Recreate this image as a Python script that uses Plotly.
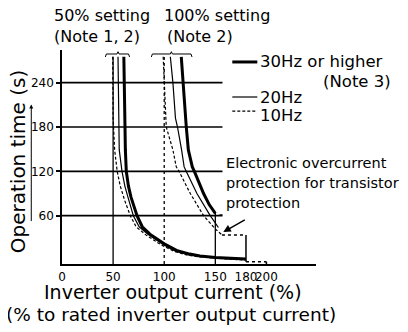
import plotly.graph_objects as go

# 50% setting curves, inverter output current (%) vs operation time (s)
cur50_30 = [60.5, 60.8, 61.2, 62, 62.9, 65, 67.5, 73.4, 78.5, 86, 100, 112, 125, 135, 150, 165, 180]
sec50_30 = [275, 240, 192, 149, 120, 100, 85, 60, 45, 35, 22, 13, 8, 5.5, 3.5, 2.2, 1.3]
cur50_20 = [54.8, 55, 55.4, 56, 58.7, 61.5, 64.5, 69.8, 75.5, 84, 99, 111, 124, 135, 150, 165, 180]
sec50_20 = [275, 240, 192, 149, 120, 100, 85, 60, 45, 35, 21, 12, 7, 4.8, 2.8, 1.5, 0.6]
cur50_10 = [49.6, 49.7, 50, 51.5, 54, 57, 61.5, 66.8, 72.5, 82, 97, 110, 123, 135, 150, 165, 180]
sec50_10 = [275, 240, 192, 149, 120, 100, 80, 60, 45, 34, 20.5, 11.5, 6.5, 4.2, 2.2, 1, 0]

# 100% setting curves
cur100_30 = [116.7, 118.4, 121.2, 121.6, 123.6, 127.5, 129.5, 138.5, 144, 150]
sec100_30 = [275, 240, 192, 180, 149, 126, 120, 90, 75, 63]
cur100_20 = [106, 108.5, 111, 113, 117, 119.5, 121.5, 132, 145, 150, 153]
sec100_20 = [275, 240, 192, 180, 149, 126, 120, 90, 60, 50, 44]
cur100_10 = [99, 100, 101, 102, 108.5, 111.8, 114.5, 125.5, 138.5, 150, 156.5]
sec100_10 = [275, 240, 192, 180, 149, 126, 120, 90, 60, 42, 34]

# electronic overcurrent protection steps
step_cur = [156.5, 180, 180, 200, 200]
step_sec = [34, 34, -2.3, -2.3, -5.4]

grid_sec = [60, 120, 180, 240]
grid_end = 157
vline_cur = [50, 100, 150]
vline_top = [275, 275, 63.6]
axis_sec = -5.4

bracket50 = [42.4, 43.4, 53.8, 54.8, 55.8, 65.1, 66.1]
bracket100 = [87.4, 88.4, 106, 107, 108, 126.2, 127.2]
bracket_sec = [274.7, 278.8, 278.8, 281.9, 278.8, 278.8, 274.7]

x_ticks = [0, 50, 100, 150, 180, 200]
y_ticks = [60, 120, 180, 240]

FONT = "DejaVu Sans"
fig = go.Figure()


def line(x, y, width=1.2, dash="solid"):
    fig.add_trace(go.Scatter(x=x, y=y, mode="lines", showlegend=False, hoverinfo="skip",
                             line=dict(color="black", width=width, dash=dash)))


# grid
for s in grid_sec:
    line([0, grid_end], [s, s], 1.6)
for c, top in zip(vline_cur, vline_top):
    line([c, c], [axis_sec, top], 1.3, "dot" if c == 100 else "solid")

# curves
line(cur50_30, sec50_30, 3)
line(cur50_20, sec50_20, 1.2)
line(cur50_10, sec50_10, 1.2, "3px,2px")
line(cur100_30, sec100_30, 3)
line(cur100_20, sec100_20, 1.2)
line(cur100_10, sec100_10, 1.2, "3px,2px")
line([154, 157], [61, 61], 1.2)

# protection steps
line(step_cur[0:2], step_sec[0:2], 1.5, "dot")
line(step_cur[1:3], step_sec[1:3], 1.5)
line(step_cur[2:4], step_sec[2:4], 1.5, "dot")
line(step_cur[3:5], step_sec[3:5], 1.5)

# brackets
line(bracket50, bracket_sec, 1)
line(bracket100, bracket_sec, 1)

# legend samples
line([166.6, 191.1], [268, 268], 3)
line([166.6, 191.1], [220.6, 220.6], 1.2)
line([166.6, 191.1], [201.6, 201.6], 1.2, "3px,2px")

ann = [
    dict(x=-0.039, y=1.162, text="50% setting", size=16, xanchor="left"),
    dict(x=-0.039, y=1.061, text="(Note 1, 2)", size=16, xanchor="left"),
    dict(x=0.394, y=1.162, text="100% setting", size=16, xanchor="left"),
    dict(x=0.406, y=1.061, text="(Note 2)", size=16, xanchor="left"),
    dict(x=0.772, y=0.944, text="30Hz or higher", size=16.5, xanchor="left"),
    dict(x=1.303, y=0.855, text="(Note 3)", size=16.5, xanchor="right"),
    dict(x=0.772, y=0.776, text="20Hz", size=16.5, xanchor="left"),
    dict(x=0.772, y=0.695, text="10Hz", size=16.5, xanchor="left"),
    dict(x=0.638, y=0.472, text="Electronic overcurrent", size=14.5, xanchor="left"),
    dict(x=0.638, y=0.379, text="protection for transistor", size=14.5, xanchor="left"),
    dict(x=0.638, y=0.285, text="protection", size=14.5, xanchor="left"),
    dict(x=0.437, y=-0.13, text="Inverter output current (%)", size=19, xanchor="center"),
    dict(x=0.429, y=-0.236, text="(% to rated inverter output current)", size=18.5, xanchor="center"),
    dict(x=-0.172, y=0.477, text="Operation time (s)", size=20, xanchor="center", textangle=-90),
]
for a in ann:
    size = a.pop("size")
    fig.add_annotation(**a, xref="paper", yref="paper", showarrow=False, yanchor="middle",
                       font=dict(family=FONT, size=size, color="black"))

# arrows
fig.add_annotation(x=157.8, y=37.9, ax=180.3, ay=55.5, xref="x", yref="y", axref="x", ayref="y",
                   text="", showarrow=True, arrowhead=2, arrowsize=1, arrowwidth=1.5, arrowcolor="black")
fig.add_annotation(x=-0.121, y=0.745, xref="paper", yref="paper", ax=0, ay=118,
                   text="", showarrow=True, arrowhead=2, arrowsize=0.8, arrowwidth=1, arrowcolor="black")

# page body adds an 8px margin, so the figure is sized and placed to make up for it
fig.update_layout(
    width=400, height=324,
    margin=dict(l=54, r=92, t=42, b=68),
    plot_bgcolor="white", paper_bgcolor="white",
    font=dict(family=FONT, color="black"),
    xaxis=dict(range=[0, 248.5], showgrid=False, zeroline=False, showline=True, linecolor="black",
               linewidth=1.5, tickvals=x_ticks, ticks="", tickangle=0, ticklabelstandoff=1,
               tickfont=dict(size=12)),
    yaxis=dict(range=[axis_sec, 284.2], showgrid=False, zeroline=False, showline=True, linecolor="black",
               linewidth=1.5, tickvals=y_ticks, ticks="outside", ticklen=4, tickwidth=1.5,
               tickcolor="black", tickfont=dict(size=12)),
)

fig.write_html("out.html")
